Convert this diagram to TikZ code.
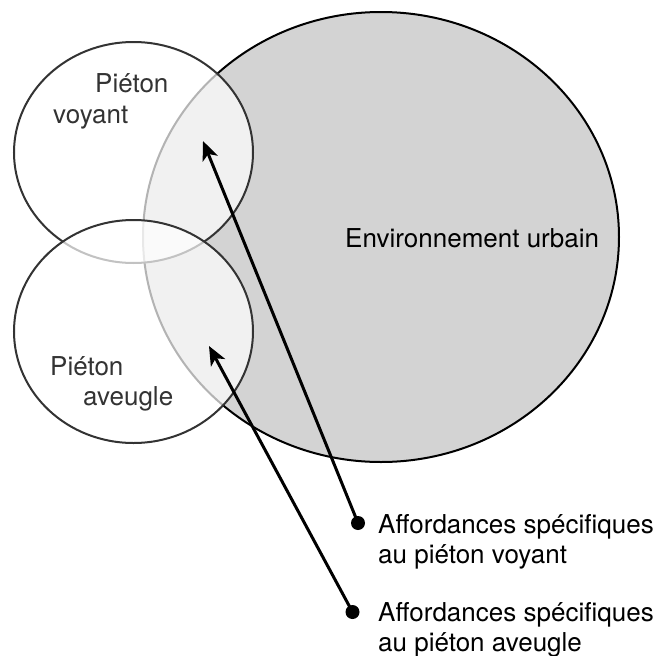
\documentclass[tikz,border=0pt]{standalone}
\usepackage{fontspec}
\setmainfont{TeX Gyre Heros}
\usetikzlibrary{arrows.meta}

\definecolor{urbangray}{HTML}{D3D3D3}
\definecolor{rimgray}{HTML}{333333}

\tikzset{
  urban/.style={fill=urbangray, draw=black, line width=2pt},
  walker/.style={fill=white, fill opacity=0.7, draw=rimgray, line width=2pt},
  circletext/.style={anchor=base west, inner sep=0pt, text=rimgray,
    font=\fontsize{26}{31}\selectfont},
  legendtext/.style={anchor=base west, inner sep=0pt, align=left,
    font=\fontsize{26}{30}\selectfont},
  dot/.style={circle, fill=black, inner sep=0pt, minimum size=14pt},
  pointer/.style={line width=3pt, -{Stealth[length=19pt, width=16pt, inset=5pt]}}
}

\begin{document}
\begin{tikzpicture}[x=1pt, y=-1pt]
  \useasboundingbox (0,0) rectangle (657,656);

  % urban environment, then the two pedestrians on top
  \filldraw[urban] (381,237) ellipse[x radius=238, y radius=225];
  \filldraw[walker] (133.5,152.5) ellipse[x radius=119.5, y radius=110.5];
  \filldraw[walker] (133.5,331.5) ellipse[x radius=119.5, y radius=111.5];

  \node[circletext] (sighted1) at (95,92) {Piéton};
  \node[circletext] (sighted2) at (53,123) {voyant};
  \node[circletext] (blind1) at (50,375) {Piéton};
  \node[circletext] (blind2) at (83,405) {aveugle};
  \node[circletext, text=black] (urbanlabel) at (345,247) {Environnement urbain};

  % legend (base of a two-line node is its last line)
  \node[dot] (dotsighted) at (358,523) {};
  \node[dot] (dotblind) at (352.5,612) {};
  \node[legendtext] (legsighted) at (378,563) {Affordances spécifiques\\au piéton voyant};
  \node[legendtext] (legblind) at (378,651) {Affordances spécifiques\\au piéton aveugle};

  \coordinate (tipsighted) at (203,141);
  \coordinate (tipblind) at (209,346);
  \draw[pointer] (dotsighted.center) -- (tipsighted);
  \draw[pointer] (dotblind.center) -- (tipblind);
\end{tikzpicture}
\end{document}
